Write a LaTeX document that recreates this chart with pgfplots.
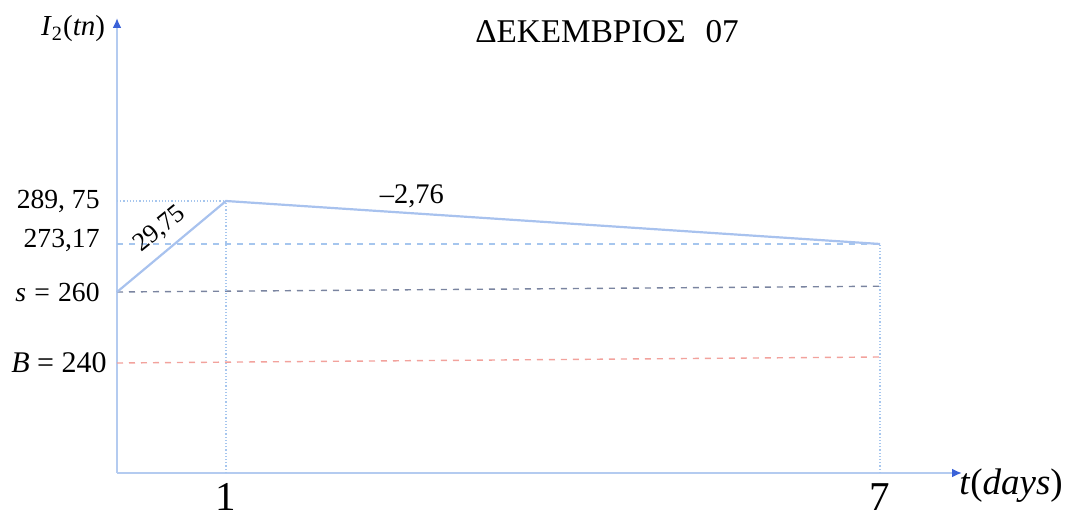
\documentclass[border=0pt]{standalone}
\usepackage{fontspec}
\setmainfont{Liberation Serif}
\usepackage{pgfplots}
\pgfplotsset{compat=1.18}
\usetikzlibrary{arrows.meta}
\definecolor{axisblue}{HTML}{B4CBF0}
\definecolor{arrowblue}{HTML}{3A62D8}
\definecolor{lineblue}{HTML}{A8C2EE}
\definecolor{dotblue}{HTML}{A6C6EE}
\definecolor{sline}{HTML}{7A84A0}
\definecolor{bline}{HTML}{F2A29C}
\begin{document}
\begin{tikzpicture}
\path[use as bounding box] (-58.5pt,-22.5pt) rectangle (475.5pt,236.5pt);
\begin{axis}[
  at={(0pt,0pt)}, anchor=south west,
  scale only axis, width=422.5pt, height=227.5pt,
  xmin=0, xmax=7.752, ymin=0, ymax=360.31,
  y coord trafo/.code={\pgfmathparse{ifthenelse(#1<=240, #1/240*110, ifthenelse(#1<=260, 110+(#1-240)/20*71, ifthenelse(#1<=273.17, 181+(#1-260)/13.17*48, 229+(#1-273.17)/16.58*43)))}},
  axis lines=left,
  axis line style={axisblue, line width=1pt},
  x axis line style={-{Latex[length=5pt,width=4.5pt,color=arrowblue]}},
  y axis line style={-{Latex[length=5pt,width=4.5pt,color=arrowblue]}},
  xtick={1,7}, xticklabels={1,7},
  xticklabel style={anchor=base, yshift=-19pt, inner sep=0pt, font=\fontsize{20.5}{24}\selectfont},
  ytick={240,260,273.17,289.75},
  yticklabels={
    {\fontsize{15}{18}\selectfont\textit{B}\hspace{0.25em}=\hspace{0.25em}240\hspace*{-3.5pt}},
    {\textit{s}\hspace{0.3em}=\hspace{0.3em}260},
    {\raisebox{3pt}{273,17}},
    {\raisebox{1pt}{289, 75}}},
  yticklabel style={anchor=base east, inner sep=0pt, xshift=-8.5pt, yshift=-4.7pt, font=\fontsize{13.8}{16}\selectfont},
  major tick length=0pt,
  clip=false,
]
\addplot[dotblue, densely dotted, line width=0.6pt] coordinates {(0,289.75) (1,289.75)};
\addplot[dotblue, dashed, line width=0.6pt] coordinates {(0,273.17) (7,273.17)};
\addplot[sline, dashed, line width=0.7pt] coordinates {(0,260) (7,261.58)};
\addplot[bline, dashed, line width=0.7pt] coordinates {(0,240) (7,241.69)};
\addplot[dotblue, densely dotted, line width=0.6pt] coordinates {(1,0) (1,289.75)};
\addplot[dotblue, densely dotted, line width=0.6pt] coordinates {(7,0) (7,273.17)};
\addplot[lineblue, line width=1.1pt] coordinates {(0,260) (1,289.75) (7,273.17)};
\node[font=\fontsize{16.6}{19}\selectfont] at (rel axis cs:0.580,0.969) {ΔΕΚΕΜΒΡΙΟΣ\hspace{0.6em}07};
\node[font=\fontsize{14.5}{17}\selectfont] at (rel axis cs:-0.052,0.976) {\textit{I}\textsubscript{2}(\textit{tn})};
\node[font=\fontsize{18.5}{22}\selectfont] at (rel axis cs:1.058,-0.0286) {\textit{t}(\textit{days})};
\node[font=\fontsize{14.2}{17}\selectfont] at (rel axis cs:0.349,0.609) {–2,76};
\node[font=\fontsize{13}{16}\selectfont, rotate=39] at (rel axis cs:0.051,0.536) {29,75};
\end{axis}
\end{tikzpicture}
\end{document}
